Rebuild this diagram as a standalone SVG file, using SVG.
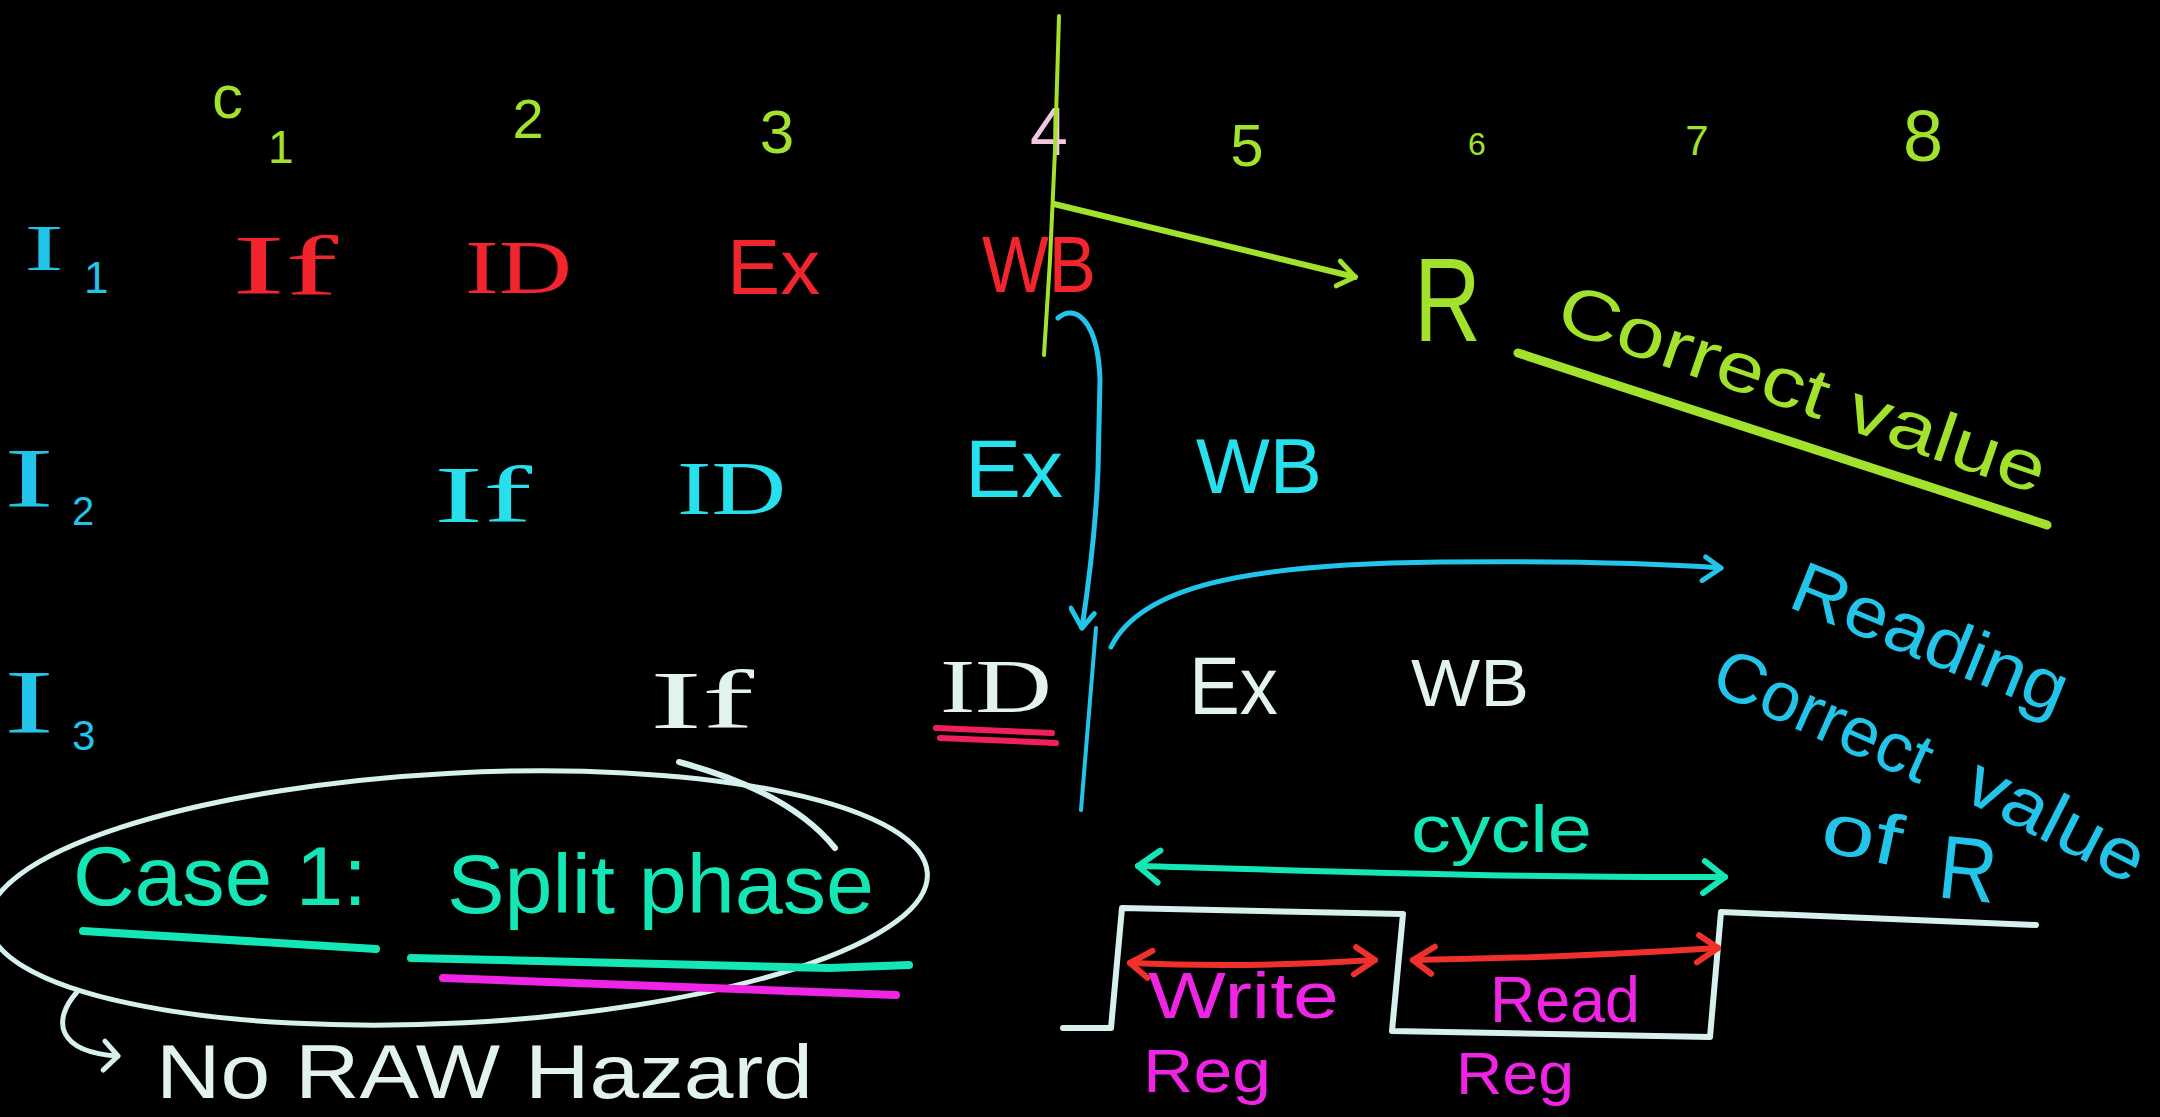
<svg xmlns="http://www.w3.org/2000/svg" width="2160" height="1117" viewBox="0 0 2160 1117">
  <style>
    text { font-family: "Liberation Sans", Arial, sans-serif; }
    .serif { font-family: "Liberation Serif", "Times New Roman", serif; }
    .green { fill: #a2e22c; }
    .pink { fill: #f2c6e0; }
    .red { fill: #f2242c; }
    .cyan { fill: #22c4ea; }
    .cyan2 { fill: #26e0ee; }
    .white { fill: #e2f2ee; }
    .teal { fill: #14e6b6; }
    .mag { fill: #f024e4; }
    .ink { fill: none; stroke-linecap: round; stroke-linejoin: round; }
    .s-green { stroke: #a2e22c; }
    .s-cyan { stroke: #22c4ea; }
    .s-teal { stroke: #14e6b6; }
    .s-red { stroke: #f0302a; }
    .s-white { stroke: #d6f0ee; }
    .s-mag { stroke: #f024e4; }
    .s-rose { stroke: #f0205c; }
  </style>
  <defs>
    <marker id="hg" viewBox="-24 -16 28 32" markerWidth="28" markerHeight="32" refX="0" refY="0" orient="auto" markerUnits="userSpaceOnUse">
      <path d="M-18,-12 L0,0 L-16,13" fill="none" stroke="#a2e22c" stroke-width="5" stroke-linecap="round" stroke-linejoin="round"/>
    </marker>
    <marker id="hc" viewBox="-24 -16 28 32" markerWidth="28" markerHeight="32" refX="0" refY="0" orient="auto" markerUnits="userSpaceOnUse">
      <path d="M-16,-10 L0,0 L-18,14" fill="none" stroke="#22c4ea" stroke-width="5" stroke-linecap="round" stroke-linejoin="round"/>
    </marker>
    <marker id="ht" viewBox="-30 -20 34 40" markerWidth="34" markerHeight="40" refX="0" refY="0" orient="auto-start-reverse" markerUnits="userSpaceOnUse">
      <path d="M-20,-16 L0,0 L-22,16" fill="none" stroke="#14e6b6" stroke-width="6" stroke-linecap="round" stroke-linejoin="round"/>
    </marker>
    <marker id="hr" viewBox="-30 -20 34 40" markerWidth="34" markerHeight="40" refX="0" refY="0" orient="auto-start-reverse" markerUnits="userSpaceOnUse">
      <path d="M-18,-14 L0,0 L-22,13" fill="none" stroke="#f0302a" stroke-width="6" stroke-linecap="round" stroke-linejoin="round"/>
    </marker>
    <marker id="hw" viewBox="-24 -18 28 36" markerWidth="28" markerHeight="36" refX="0" refY="0" orient="auto" markerUnits="userSpaceOnUse">
      <path d="M-14,-14 L0,0 L-14,15" fill="none" stroke="#d6f0ee" stroke-width="5" stroke-linecap="round" stroke-linejoin="round"/>
    </marker>
  </defs>

  <rect width="2160" height="1117" fill="#000"/>

  <!-- clock cycle numbers -->
  <g id="cycles">
    <text class="green" x="212" y="118" font-size="62">c</text>
    <text class="green" x="268" y="163" font-size="46">1</text>
    <text class="green" x="528" y="138" font-size="56" text-anchor="middle">2</text>
    <text class="green" x="777" y="153" font-size="62" text-anchor="middle">3</text>
    <text class="pink" x="1049" y="155" font-size="68" text-anchor="middle">4</text>
    <text class="green" x="1247" y="166" font-size="60" text-anchor="middle">5</text>
    <text class="green" x="1477" y="155" font-size="32" text-anchor="middle">6</text>
    <text class="green" x="1697" y="155" font-size="42" text-anchor="middle">7</text>
    <text class="green" x="1923" y="161" font-size="72" text-anchor="middle">8</text>
  </g>

  <!-- instruction labels -->
  <g id="instr-1">
    <text class="cyan serif" x="24" y="270" font-size="66" textLength="40" lengthAdjust="spacingAndGlyphs">I</text>
    <text class="cyan" x="84" y="293" font-size="44">1</text>
  </g>
  <g id="instr-2">
    <text class="cyan serif" x="4" y="507" font-size="84" textLength="50" lengthAdjust="spacingAndGlyphs">I</text>
    <text class="cyan" x="72" y="525" font-size="40">2</text>
  </g>
  <g id="instr-3">
    <text class="cyan serif" x="4" y="733" font-size="90" textLength="50" lengthAdjust="spacingAndGlyphs">I</text>
    <text class="cyan" x="72" y="750" font-size="42">3</text>
  </g>

  <!-- I1 stages -->
  <g id="i1-stages">
    <text class="red serif" x="232" y="294" font-size="84" textLength="106" lengthAdjust="spacingAndGlyphs">If</text>
    <text class="red serif" x="465" y="293" font-size="76" textLength="107" lengthAdjust="spacingAndGlyphs">ID</text>
    <text class="red" x="727" y="294" font-size="78" textLength="93" lengthAdjust="spacingAndGlyphs">Ex</text>
    <text class="red" x="982" y="292" font-size="80" textLength="114" lengthAdjust="spacingAndGlyphs">WB</text>
  </g>

  <!-- I2 stages -->
  <g id="i2-stages">
    <text class="cyan2 serif" x="434" y="522" font-size="80" textLength="98" lengthAdjust="spacingAndGlyphs">If</text>
    <text class="cyan2 serif" x="677" y="514" font-size="76" textLength="109" lengthAdjust="spacingAndGlyphs">ID</text>
    <text class="cyan2" x="965" y="497" font-size="82" textLength="98" lengthAdjust="spacingAndGlyphs">Ex</text>
    <text class="cyan2" x="1196" y="493" font-size="78" textLength="126" lengthAdjust="spacingAndGlyphs">WB</text>
  </g>

  <!-- I3 stages -->
  <g id="i3-stages">
    <text class="white serif" x="650" y="728" font-size="82" textLength="104" lengthAdjust="spacingAndGlyphs">If</text>
    <text class="white serif" x="940" y="712" font-size="76" textLength="112" lengthAdjust="spacingAndGlyphs">ID</text>
    <text class="white" x="1189" y="714" font-size="82" textLength="89" lengthAdjust="spacingAndGlyphs">Ex</text>
    <text class="white" x="1411" y="706" font-size="66" textLength="118" lengthAdjust="spacingAndGlyphs">WB</text>
  </g>

  <!-- register R written in WB -->
  <g id="reg-r">
    <text class="green" x="1414" y="341" font-size="118" textLength="67" lengthAdjust="spacingAndGlyphs">R</text>
    <text class="green" x="1553" y="328" font-size="70" textLength="512" lengthAdjust="spacingAndGlyphs" transform="rotate(19 1553 328)">Correct value</text>
  </g>

  <!-- note on reading R -->
  <g id="read-note">
    <text class="cyan" x="1786" y="606" font-size="72" textLength="292" lengthAdjust="spacingAndGlyphs" transform="rotate(22 1786 606)">Reading</text>
    <text class="cyan" x="1708" y="690" font-size="70" textLength="232" lengthAdjust="spacingAndGlyphs" transform="rotate(24 1708 690)">Correct</text>
    <text class="cyan" x="1960" y="798" font-size="72" textLength="192" lengthAdjust="spacingAndGlyphs" transform="rotate(27 1960 798)">value</text>
    <text class="cyan" x="1818" y="850" font-size="72" textLength="80" lengthAdjust="spacingAndGlyphs" transform="rotate(12 1818 850)">of</text>
    <text class="cyan" x="1936" y="897" font-size="90" textLength="58" lengthAdjust="spacingAndGlyphs" transform="rotate(6 1936 897)">R</text>
  </g>

  <!-- clock cycle split into write / read halves -->
  <g id="clock">
    <text class="teal" x="1411" y="852" font-size="66" textLength="181" lengthAdjust="spacingAndGlyphs">cycle</text>
    <text class="mag" x="1148" y="1018" font-size="64" textLength="191" lengthAdjust="spacingAndGlyphs">Write</text>
    <text class="mag" x="1143" y="1092" font-size="62" textLength="128" lengthAdjust="spacingAndGlyphs">Reg</text>
    <text class="mag" x="1490" y="1022" font-size="64" textLength="150" lengthAdjust="spacingAndGlyphs">Read</text>
    <text class="mag" x="1456" y="1094" font-size="60" textLength="118" lengthAdjust="spacingAndGlyphs">Reg</text>
  </g>

  <!-- case heading -->
  <g id="case">
    <ellipse cx="458" cy="898" rx="470" ry="125" transform="rotate(-3 458 898)" class="ink s-white" stroke-width="5"/>
    <path d="M679,762 Q790,792 835,848" class="ink s-white" stroke-width="6"/>
    <text class="teal" x="73" y="905" font-size="84" textLength="294" lengthAdjust="spacingAndGlyphs">Case 1:</text>
    <text class="teal" x="447" y="913" font-size="84" textLength="427" lengthAdjust="spacingAndGlyphs">Split phase</text>
    <path d="M83,931 L376,949" class="ink s-teal" stroke-width="8"/>
    <path d="M411,958 L829,968 L909,965" class="ink s-teal" stroke-width="8"/>
    <path d="M443,978 L896,995" class="ink s-mag" stroke-width="8"/>
  </g>
  <g id="no-hazard">
    <text class="white" x="156" y="1098" font-size="76" textLength="657" lengthAdjust="spacingAndGlyphs">No RAW Hazard</text>
  </g>

  <!-- connectors -->
  <g id="connectors">
    <path d="M1059,16 L1055,150 L1050,260 L1044,355" class="ink s-green" stroke-width="4"/>
    <path d="M1054,204 L1355,277" class="ink s-green" stroke-width="6" marker-end="url(#hg)"/>
    <path d="M1518,353 L2047,525" class="ink s-green" stroke-width="9"/>

    <path d="M1058,318 C1074,304 1098,318 1100,380 L1098,470 C1096,525 1090,575 1082,628" class="ink s-cyan" stroke-width="5" marker-end="url(#hc)"/>
    <path d="M1096,628 L1081,810" class="ink s-cyan" stroke-width="4"/>
    <path d="M1111,647 C1140,588 1240,564 1440,562 C1560,561 1650,563 1721,568" class="ink s-cyan" stroke-width="5" marker-end="url(#hc)"/>

    <path d="M936,728 L1052,733" class="ink s-rose" stroke-width="6"/>
    <path d="M940,738 L1056,743" class="ink s-rose" stroke-width="6"/>

    <path d="M1138,866 C1300,870 1500,878 1725,877" class="ink s-teal" stroke-width="6" marker-start="url(#ht)" marker-end="url(#ht)"/>
    <path d="M1063,1028 L1111,1028 L1122,908 L1403,914 L1392,1031 L1710,1037 L1721,912 L2036,925" class="ink s-white" stroke-width="6"/>
    <path d="M1130,963 Q1250,968 1375,960" class="ink s-red" stroke-width="6" marker-start="url(#hr)" marker-end="url(#hr)"/>
    <path d="M1413,960 Q1560,958 1718,948" class="ink s-red" stroke-width="6" marker-start="url(#hr)" marker-end="url(#hr)"/>

    <path d="M77,992 C52,1020 56,1052 118,1056" class="ink s-white" stroke-width="5" marker-end="url(#hw)"/>
  </g>
</svg>
